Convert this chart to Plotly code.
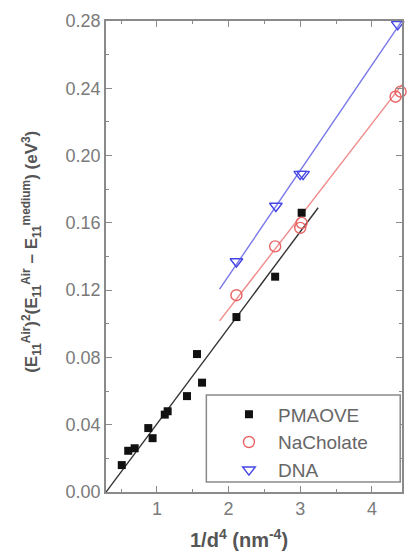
import plotly.graph_objects as go
import numpy as np

# ---- data ----
pm_x = [0.51, 0.60, 0.69, 0.88, 0.94, 1.11, 1.15, 1.42, 1.56, 1.63, 2.11, 2.65, 3.02]
pm_y = [0.016, 0.0245, 0.026, 0.038, 0.032, 0.046, 0.048, 0.057, 0.082, 0.065, 0.104, 0.128, 0.166]

na_x = [2.11, 2.65, 3.00, 3.02, 4.33, 4.40]
na_y = [0.117, 0.146, 0.157, 0.160, 0.235, 0.238]

dna_x = [2.11, 2.66, 3.00, 3.04, 4.36]
dna_y = [0.137, 0.170, 0.189, 0.189, 0.278]

# linear fits: slope, intercept, x start, x end
fit_pm = dict(slope=0.0571, intercept=-0.0166, x0=0.29, x1=3.25)
fit_na = dict(slope=0.0552, intercept=-0.0018, x0=1.875, x1=4.42)
fit_dna = dict(slope=0.0627, intercept=0.0030, x0=1.875, x1=4.42)

x_ticks = [1, 2, 3, 4]
y_ticks = [0.00, 0.04, 0.08, 0.12, 0.16, 0.20, 0.24, 0.28]

BLACK = "#111111"
RED = "#e86464"
REDLINE = "#f08a8a"
BLUE = "#4646e6"
BLUELINE = "#7878ea"
GRAY = "#7a7a7a"
AXIS = "#8a8a8a"
FONT = "Liberation Sans, Arial, sans-serif"


def fit_line(f):
    xs = np.array([f["x0"], f["x1"]])
    return xs, f["slope"] * xs + f["intercept"]


fig = go.Figure()
for f, col in [(fit_pm, "#333333"), (fit_na, REDLINE), (fit_dna, BLUELINE)]:
    lx, ly = fit_line(f)
    fig.add_trace(go.Scatter(x=lx, y=ly, mode="lines", line=dict(color=col, width=1.4),
                             showlegend=False, hoverinfo="skip"))

fig.add_trace(go.Scatter(x=pm_x, y=pm_y, mode="markers", name="PMAOVE",
                         marker=dict(symbol="square", size=8, color=BLACK), cliponaxis=False))
fig.add_trace(go.Scatter(x=na_x, y=na_y, mode="markers", name="NaCholate",
                         marker=dict(symbol="circle-open", size=11, color=RED, line=dict(width=1.4)),
                         cliponaxis=False))
fig.add_trace(go.Scatter(x=dna_x, y=dna_y, mode="markers", name="DNA",
                         marker=dict(symbol="triangle-down-open", size=11, color=BLUE, line=dict(width=1.4)),
                         cliponaxis=False))

axis_common = dict(
    showgrid=False, zeroline=False, showline=True, linecolor=AXIS, linewidth=1.5,
    mirror="allticks", ticks="inside", ticklen=6, tickwidth=1.2, tickcolor=AXIS,
    tickfont=dict(family=FONT, size=18, color=GRAY),
)

fig.update_xaxes(range=[0.29, 4.42], tickvals=x_ticks, ticktext=[str(v) for v in x_ticks],
                 minor=dict(dtick=0.5, tick0=0, ticks="inside", ticklen=3, tickcolor=AXIS, tickwidth=1.2),
                 **axis_common)
fig.update_yaxes(range=[0, 0.28], tickvals=y_ticks, ticktext=[f"{v:.2f}" for v in y_ticks],
                 minor=dict(dtick=0.02, tick0=0, ticks="inside", ticklen=3, tickcolor=AXIS, tickwidth=1.2),
                 **axis_common)

fig.add_annotation(
    text="<b>(E<sub>11</sub><sup>Air</sup>)<sup>2</sup>(E<sub>11</sub><sup>Air</sup> \u2013 E<sub>11</sub><sup>medium</sup>) (eV<sup>3</sup>)</b>",
    xref="paper", yref="paper", x=-0.25, y=0.51, xanchor="center", yanchor="middle",
    textangle=-90, showarrow=False, font=dict(family=FONT, size=17, color="#555555"))
fig.add_annotation(
    text="<b>1/d<sup>4</sup> (nm<sup>-4</sup>)</b>",
    xref="paper", yref="paper", x=0.45, y=-0.098, xanchor="center", yanchor="middle",
    showarrow=False, font=dict(family=FONT, size=20, color="#555555"))

# legend frame
fig.add_shape(type="rect", xref="paper", yref="paper",
              x0=0.339, x1=0.994, y0=0.021, y1=0.206,
              line=dict(color=AXIS, width=1.5), fillcolor="white", layer="above")

fig.update_layout(
    width=407, height=551,
    margin=dict(l=106, r=3, t=21, b=59),
    paper_bgcolor="white", plot_bgcolor="white",
    showlegend=True,
    legend=dict(x=0.385, y=0.205, xanchor="left", yanchor="top",
                borderwidth=0, bgcolor="rgba(0,0,0,0)",
                font=dict(family=FONT, size=19, color="#666666"),
                itemwidth=48, tracegroupgap=0),
)

fig.write_html("out.html")
